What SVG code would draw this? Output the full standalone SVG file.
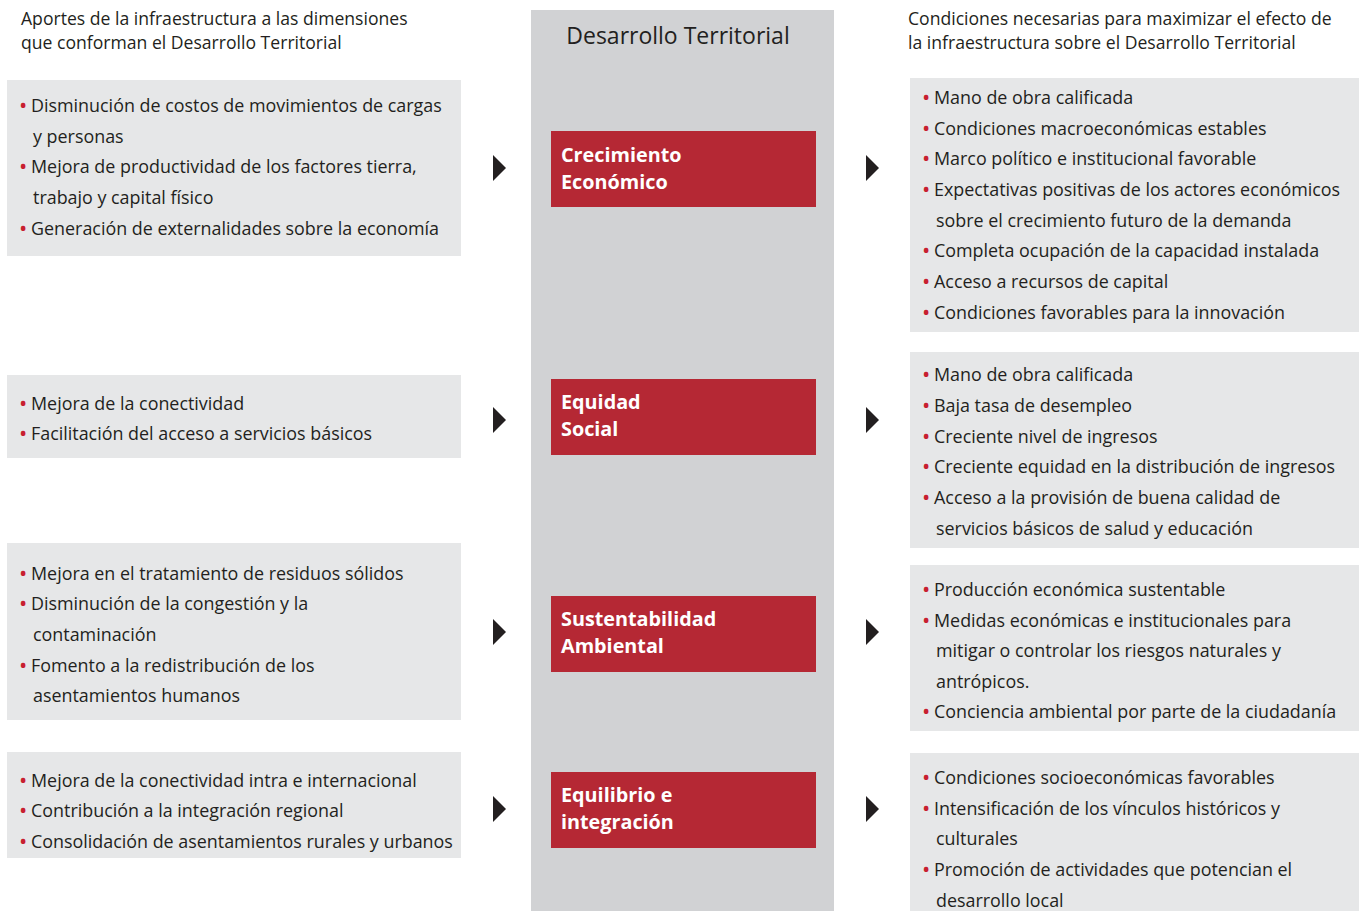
<svg xmlns="http://www.w3.org/2000/svg" width="1359" height="911" viewBox="0 0 1359 911">
<style>
.bg{fill:#ffffff}
.col{fill:#d1d2d4}
.box{fill:#e6e7e8}
.red{fill:#b52834}
.t{font-family:"Open Sans","Liberation Sans",sans-serif;font-size:17.9px;fill:#231f20}
.h{font-family:"Open Sans","Liberation Sans",sans-serif;font-size:17.6px;fill:#231f20}
.title{font-family:"Open Sans","Liberation Sans",sans-serif;font-size:23px;fill:#231f20}
.rt{font-family:"Open Sans","Liberation Sans",sans-serif;font-size:19.8px;font-weight:bold;fill:#ffffff}
.b{fill:#c8202f;font-size:22px}
.arr{fill:#231f20}
</style>
<rect class="bg" x="0" y="0" width="1359" height="911"/>
<g id="column">
<rect class="col" x="531" y="10" width="303" height="901"/>
<text class="title" x="678" y="44" text-anchor="middle">Desarrollo Territorial</text>
</g>
<g id="headers">
<text class="h"><tspan x="21" y="25">Aportes de la infraestructura a las dimensiones</tspan><tspan x="21" y="49">que conforman el Desarrollo Territorial</tspan></text>
<text class="h"><tspan x="908" y="25">Condiciones necesarias para maximizar el efecto de</tspan><tspan x="908" y="49">la infraestructura sobre el Desarrollo Territorial</tspan></text>
</g>
<g id="dim1">
<rect class="red" x="551" y="131" width="265" height="76"/>
<text class="rt"><tspan x="561" y="162">Crecimiento</tspan><tspan x="561" y="189">Económico</tspan></text>
</g>
<g id="dim2">
<rect class="red" x="551" y="379" width="265" height="76"/>
<text class="rt"><tspan x="561" y="409">Equidad</tspan><tspan x="561" y="436">Social</tspan></text>
</g>
<g id="dim3">
<rect class="red" x="551" y="596" width="265" height="76"/>
<text class="rt"><tspan x="561" y="626">Sustentabilidad</tspan><tspan x="561" y="653">Ambiental</tspan></text>
</g>
<g id="dim4">
<rect class="red" x="551" y="772" width="265" height="76"/>
<text class="rt"><tspan x="561" y="802">Equilibrio e</tspan><tspan x="561" y="829">integración</tspan></text>
</g>
<g id="left1">
<rect class="box" x="7" y="80" width="454" height="176"/>
<text class="t"><tspan class="b" x="19" y="113">•</tspan><tspan x="31" y="112">Disminución de costos de movimientos de cargas</tspan><tspan x="33" y="143">y personas</tspan><tspan class="b" x="19" y="174">•</tspan><tspan x="31" y="173">Mejora de productividad de los factores tierra,</tspan><tspan x="33" y="204">trabajo y capital físico</tspan><tspan class="b" x="19" y="236">•</tspan><tspan x="31" y="235">Generación de externalidades sobre la economía</tspan></text>
</g>
<g id="left2">
<rect class="box" x="7" y="375" width="454" height="83"/>
<text class="t"><tspan class="b" x="19" y="411">•</tspan><tspan x="31" y="410">Mejora de la conectividad</tspan><tspan class="b" x="19" y="441">•</tspan><tspan x="31" y="440">Facilitación del acceso a servicios básicos</tspan></text>
</g>
<g id="left3">
<rect class="box" x="7" y="543" width="454" height="177"/>
<text class="t"><tspan class="b" x="19" y="581">•</tspan><tspan x="31" y="580">Mejora en el tratamiento de residuos sólidos</tspan><tspan class="b" x="19" y="611">•</tspan><tspan x="31" y="610">Disminución de la congestión y la</tspan><tspan x="33" y="641">contaminación</tspan><tspan class="b" x="19" y="673">•</tspan><tspan x="31" y="672">Fomento a la redistribución de los</tspan><tspan x="33" y="702">asentamientos humanos</tspan></text>
</g>
<g id="left4">
<rect class="box" x="7" y="752" width="454" height="106"/>
<text class="t"><tspan class="b" x="19" y="788">•</tspan><tspan x="31" y="787">Mejora de la conectividad intra e internacional</tspan><tspan class="b" x="19" y="818">•</tspan><tspan x="31" y="817">Contribución a la integración regional</tspan><tspan class="b" x="19" y="849">•</tspan><tspan x="31" y="848">Consolidación de asentamientos rurales y urbanos</tspan></text>
</g>
<g id="right1">
<rect class="box" x="910" y="78" width="449" height="254"/>
<text class="t"><tspan class="b" x="922" y="105">•</tspan><tspan x="934" y="104">Mano de obra calificada</tspan><tspan class="b" x="922" y="136">•</tspan><tspan x="934" y="135">Condiciones macroeconómicas estables</tspan><tspan class="b" x="922" y="166">•</tspan><tspan x="934" y="165">Marco político e institucional favorable</tspan><tspan class="b" x="922" y="197">•</tspan><tspan x="934" y="196">Expectativas positivas de los actores económicos</tspan><tspan x="936" y="227">sobre el crecimiento futuro de la demanda</tspan><tspan class="b" x="922" y="258">•</tspan><tspan x="934" y="257">Completa ocupación de la capacidad instalada</tspan><tspan class="b" x="922" y="289">•</tspan><tspan x="934" y="288">Acceso a recursos de capital</tspan><tspan class="b" x="922" y="320">•</tspan><tspan x="934" y="319">Condiciones favorables para la innovación</tspan></text>
</g>
<g id="right2">
<rect class="box" x="910" y="352" width="449" height="196"/>
<text class="t"><tspan class="b" x="922" y="382">•</tspan><tspan x="934" y="381">Mano de obra calificada</tspan><tspan class="b" x="922" y="413">•</tspan><tspan x="934" y="412">Baja tasa de desempleo</tspan><tspan class="b" x="922" y="444">•</tspan><tspan x="934" y="443">Creciente nivel de ingresos</tspan><tspan class="b" x="922" y="474">•</tspan><tspan x="934" y="473">Creciente equidad en la distribución de ingresos</tspan><tspan class="b" x="922" y="505">•</tspan><tspan x="934" y="504">Acceso a la provisión de buena calidad de</tspan><tspan x="936" y="535">servicios básicos de salud y educación</tspan></text>
</g>
<g id="right3">
<rect class="box" x="910" y="565" width="449" height="166"/>
<text class="t"><tspan class="b" x="922" y="597">•</tspan><tspan x="934" y="596">Producción económica sustentable</tspan><tspan class="b" x="922" y="628">•</tspan><tspan x="934" y="627">Medidas económicas e institucionales para</tspan><tspan x="936" y="657">mitigar o controlar los riesgos naturales y</tspan><tspan x="936" y="688">antrópicos.</tspan><tspan class="b" x="922" y="719">•</tspan><tspan x="934" y="718">Conciencia ambiental por parte de la ciudadanía</tspan></text>
</g>
<g id="right4">
<rect class="box" x="910" y="753" width="449" height="158"/>
<text class="t"><tspan class="b" x="922" y="785">•</tspan><tspan x="934" y="784">Condiciones socioeconómicas favorables</tspan><tspan class="b" x="922" y="816">•</tspan><tspan x="934" y="815">Intensificación de los vínculos históricos y</tspan><tspan x="936" y="845">culturales</tspan><tspan class="b" x="922" y="877">•</tspan><tspan x="934" y="876">Promoción de actividades que potencian el</tspan><tspan x="936" y="907">desarrollo local</tspan></text>
</g>
<g id="connectors">
<polygon class="arr" points="493,155 506,168 493,181"/>
<polygon class="arr" points="866,155 879,168 866,181"/>
<polygon class="arr" points="493,407 506,420 493,433"/>
<polygon class="arr" points="866,407 879,420 866,433"/>
<polygon class="arr" points="493,619 506,632 493,645"/>
<polygon class="arr" points="866,619 879,632 866,645"/>
<polygon class="arr" points="493,796 506,809 493,822"/>
<polygon class="arr" points="866,796 879,809 866,822"/>
</g>
</svg>
